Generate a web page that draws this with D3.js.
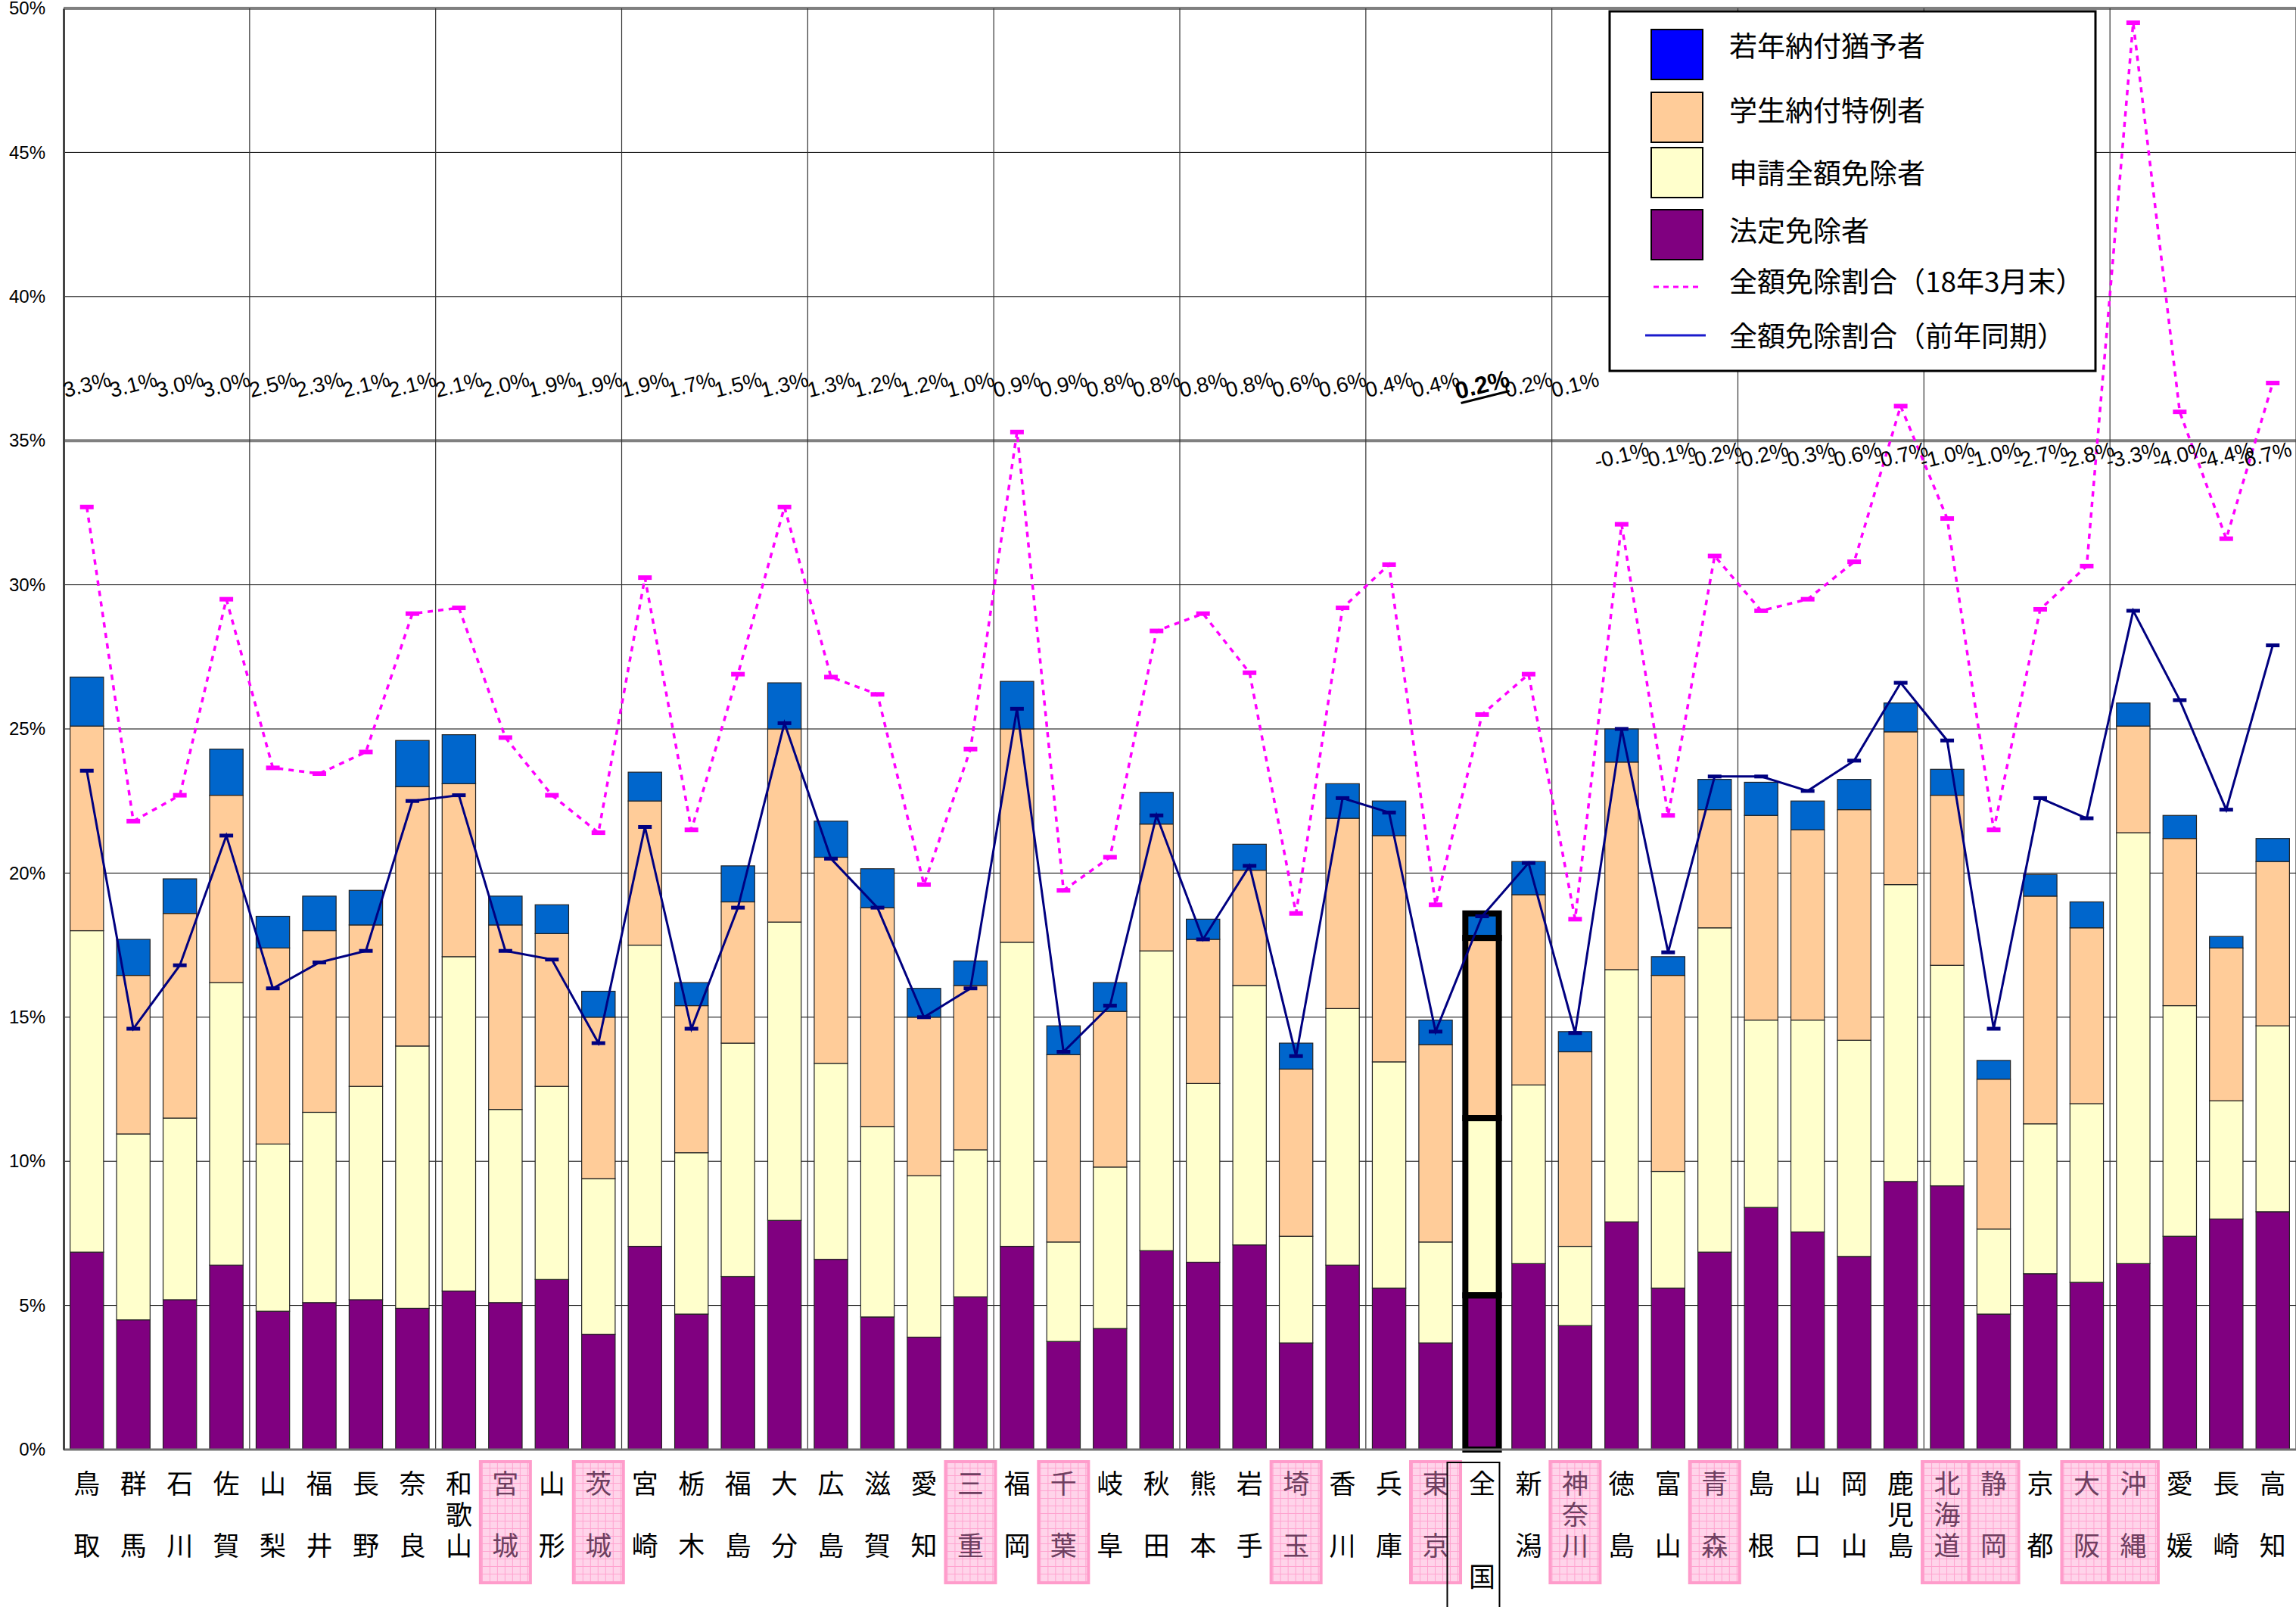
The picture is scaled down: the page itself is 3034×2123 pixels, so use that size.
<!DOCTYPE html>
<html lang="ja">
<head>
<meta charset="UTF-8"/>
<title>全額免除割合</title>
<script src="https://cdn.jsdelivr.net/npm/d3@7/dist/d3.min.js"></script>
<style>
body { margin: 0; background: #fff; }
svg { display: block; }
.yaxis text { font: 24px "Liberation Sans", Arial, sans-serif; fill: #000; }
.cat text { font: 35px "Noto Sans CJK JP", sans-serif; }
.diff text { font: 28px "Liberation Sans", Arial, sans-serif; fill: #000; }
.legend text { font: 37px "Noto Sans CJK JP", sans-serif; fill: #000; }
</style>
</head>
<body>
<svg id="chart"></svg>
<script>
var width = 3034, height = 2123;

// prefectures in the order of the source chart (sorted by change)
var categories = ["鳥取","群馬","石川","佐賀","山梨","福井","長野","奈良","和歌山","宮城",
  "山形","茨城","宮崎","栃木","福島","大分","広島","滋賀","愛知","三重",
  "福岡","千葉","岐阜","秋田","熊本","岩手","埼玉","香川","兵庫","東京",
  "全国","新潟","神奈川","徳島","富山","青森","島根","山口","岡山","鹿児島",
  "北海道","静岡","京都","大阪","沖縄","愛媛","長崎","高知"];

// 法定免除者 (%)
var houtei = [6.85,4.5,5.2,6.4,4.8,5.1,5.2,4.9,5.5,5.1,
  5.9,4.0,7.05,4.7,6.0,7.95,6.6,4.6,3.9,5.3,
  7.05,3.75,4.2,6.9,6.5,7.1,3.7,6.4,5.6,3.7,
  5.35,6.45,4.3,7.9,5.6,6.85,8.4,7.55,6.7,9.3,
  9.15,4.7,6.1,5.8,6.45,7.4,8.0,8.25];
// 申請全額免除者 (%)
var shinsei = [11.15,6.45,6.3,9.8,5.8,6.6,7.4,9.1,11.6,6.7,
  6.7,5.4,10.45,5.6,8.1,10.35,6.8,6.6,5.6,5.1,
  10.55,3.45,5.6,10.4,6.2,9.0,3.7,8.9,7.85,3.5,
  6.15,6.2,2.75,8.75,4.05,11.25,6.5,7.35,7.5,10.3,
  7.65,2.95,5.2,6.2,14.95,8.0,4.1,6.45];
// 学生納付特例者 (%)
var gakusei = [7.1,5.5,7.1,6.5,6.8,6.3,5.6,9.0,6.0,6.4,
  5.3,5.6,5.0,5.1,4.9,6.7,7.15,7.6,5.5,5.7,
  7.4,6.5,5.4,4.4,5.0,4.0,5.8,6.6,7.85,6.85,
  6.25,6.6,6.75,7.2,6.8,4.1,7.1,6.6,8.0,5.3,
  5.9,5.2,7.9,6.1,3.7,5.8,5.3,5.7];
// 若年納付猶予者 (%)
var jakunen = [1.7,1.25,1.2,1.6,1.1,1.2,1.2,1.6,1.7,1.0,
  1.0,0.9,1.0,0.8,1.25,1.6,1.25,1.35,1.0,0.85,
  1.65,1.0,1.0,1.1,0.7,0.9,0.9,1.2,1.2,0.85,
  0.85,1.15,0.7,1.15,0.65,1.05,1.15,1.0,1.05,1.0,
  0.9,0.65,0.75,0.9,0.8,0.8,0.4,0.8];
// 全額免除割合(18年3月末)
var rateNow = [32.7,21.8,22.7,29.5,23.65,23.45,24.2,29.0,29.2,24.7,
  22.7,21.4,30.25,21.5,26.9,32.7,26.8,26.2,19.6,24.3,
  35.3,19.4,20.55,28.4,29.0,26.95,18.6,29.2,30.7,18.9,
  25.5,26.9,18.4,32.1,22.0,31.0,29.1,29.5,30.8,36.2,
  32.3,21.5,29.15,30.65,49.5,36.0,31.6,37.0];
// 全額免除割合(前年同期)
var ratePrev = [23.55,14.6,16.8,21.3,16.0,16.9,17.3,22.5,22.7,17.3,
  17.0,14.1,21.6,14.6,18.8,25.2,20.5,18.8,15.0,16.0,
  25.7,13.8,15.4,22.0,17.7,20.25,13.65,22.6,22.1,14.5,
  18.5,20.35,14.45,25.0,17.25,23.35,23.35,22.85,23.9,26.6,
  24.6,14.6,22.6,21.9,29.1,26.0,22.2,27.9];
// 前年同期との差
var diffLabels = ["3.3%","3.1%","3.0%","3.0%","2.5%","2.3%","2.1%","2.1%","2.1%","2.0%",
  "1.9%","1.9%","1.9%","1.7%","1.5%","1.3%","1.3%","1.2%","1.2%","1.0%",
  "0.9%","0.9%","0.8%","0.8%","0.8%","0.8%","0.6%","0.6%","0.4%","0.4%",
  "0.2%","0.2%","0.1%","-0.1%","-0.1%","-0.2%","-0.2%","-0.3%","-0.6%","-0.7%",
  "-1.0%","-1.0%","-2.7%","-2.8%","-3.3%","-4.0%","-4.4%","-6.7%"];
var highlighted = ["宮城","茨城","三重","千葉","埼玉","東京","神奈川","青森","北海道","静岡","大阪","沖縄"];
var yTicks = [0,5,10,15,20,25,30,35,40,45,50];
var seriesNames = ["若年納付猶予者","学生納付特例者","申請全額免除者","法定免除者",
  "全額免除割合（18年3月末）","全額免除割合（前年同期）"];

var svg = d3.select("#chart").attr("width", width).attr("height", height);

var defs = svg.append("defs");
var pat = defs.append("pattern").attr("id", "pinkgrid")
  .attr("width", 10).attr("height", 10).attr("patternUnits", "userSpaceOnUse");
pat.append("rect").attr("width", 10).attr("height", 10).attr("fill", "#FFD4EA");
pat.append("path").attr("d", "M9.5 0V10M0 9.5H10").attr("stroke", "#FFA3CF").attr("stroke-width", 1);

var x = d3.scaleBand().domain(categories).range([84, width])
  .paddingInner(0.28).paddingOuter(0.14);
var y = d3.scaleLinear().domain([0, 50]).range([1915, 11]);
var bw = x.bandwidth();
var cx = function(c) { return x(c) + bw / 2; };

// ---- grid ----
var grid = svg.append("g");
grid.selectAll("line.h").data(yTicks.filter(function(d) { return d > 0; }))
  .enter().append("line")
  .attr("x1", 84).attr("x2", width)
  .attr("y1", function(d) { return y(d); }).attr("y2", function(d) { return y(d); })
  .attr("stroke", function(d) { return (d == 35 || d == 50) ? "#808080" : "#000"; })
  .attr("stroke-width", function(d) { return (d == 35 || d == 50) ? 4 : 1; });
var step = x.step();
grid.selectAll("line.v").data(d3.range(4, categories.length + 1, 4))
  .enter().append("line")
  .attr("x1", function(k) { return 84 + k * step; })
  .attr("x2", function(k) { return 84 + k * step; })
  .attr("y1", y(50)).attr("y2", y(0))
  .attr("stroke", "#333").attr("stroke-width", 1.2);

// ---- stacked bars ----
var keys = ["houtei", "shinsei", "gakusei", "jakunen"];
var colors = {houtei: "#800080", shinsei: "#FFFFCC", gakusei: "#FFCC99", jakunen: "#0066CC"};
var rows = categories.map(function(c, i) {
  return {name: c, houtei: houtei[i], shinsei: shinsei[i], gakusei: gakusei[i], jakunen: jakunen[i]};
});
var stacked = d3.stack().keys(keys)(rows);

svg.append("g").selectAll("g").data(stacked).enter().append("g")
  .attr("fill", function(s) { return colors[s.key]; })
  .selectAll("rect").data(function(s) { return s; }).enter().append("rect")
  .attr("x", function(d) { return x(d.data.name); })
  .attr("width", bw)
  .attr("y", function(d) { return y(d[1]); })
  .attr("height", function(d) { return y(d[0]) - y(d[1]); })
  .attr("stroke", "#222").attr("stroke-width", 1.2);

// 全国: thick outline around each segment
svg.append("g").selectAll("rect")
  .data(stacked.map(function(s) { return s.find(function(d) { return d.data.name == "全国"; }); }))
  .enter().append("rect")
  .attr("x", x("全国")).attr("width", bw)
  .attr("y", function(d) { return y(d[1]); })
  .attr("height", function(d) { return y(d[0]) - y(d[1]); })
  .attr("fill", "none").attr("stroke", "#000").attr("stroke-width", 8);

// baseline and y axis
svg.append("line").attr("x1", 84).attr("x2", width).attr("y1", y(0)).attr("y2", y(0))
  .attr("stroke", "#707070").attr("stroke-width", 3);
var yAxis = svg.append("g").attr("class", "yaxis").attr("transform", "translate(84,0)")
  .call(d3.axisLeft(y).tickValues(yTicks).tickFormat(function(d) { return d + "%"; })
    .tickSize(0).tickPadding(24));
yAxis.select(".domain").attr("stroke", "#444").attr("stroke-width", 3);

// ---- lines ----
var lineGen = d3.line()
  .x(function(d, i) { return cx(categories[i]); })
  .y(function(d) { return y(d); });

svg.append("path").datum(ratePrev).attr("d", lineGen)
  .attr("fill", "none").attr("stroke", "#000080").attr("stroke-width", 3);
svg.append("g").selectAll("rect").data(ratePrev).enter().append("rect")
  .attr("x", function(d, i) { return cx(categories[i]) - 9; })
  .attr("y", function(d) { return y(d) - 2.5; })
  .attr("width", 18).attr("height", 5).attr("fill", "#000080");

svg.append("path").datum(rateNow).attr("d", lineGen)
  .attr("fill", "none").attr("stroke", "#FF00FF").attr("stroke-width", 3.5)
  .attr("stroke-dasharray", "7,7");
svg.append("g").selectAll("rect").data(rateNow).enter().append("rect")
  .attr("x", function(d, i) { return cx(categories[i]) - 9; })
  .attr("y", function(d) { return y(d) - 3; })
  .attr("width", 18).attr("height", 6).attr("fill", "#FF00FF");

// ---- change labels ----
var diff = svg.append("g").attr("class", "diff").selectAll("g").data(diffLabels).enter().append("g")
  .attr("transform", function(d, i) {
    var v = parseFloat(d);
    var px = Math.min(cx(categories[i]), width - 42);
    return "translate(" + px + "," + y(v >= 0 ? 36.95 : 34.5) + ") rotate(-14)";
  });
diff.append("text")
  .attr("text-anchor", "middle").attr("dy", "0.35em")
  .style("font-size", function(d, i) { return categories[i] == "全国" ? "32px" : null; })
  .style("font-weight", function(d, i) { return categories[i] == "全国" ? "bold" : null; })
  .text(function(d) { return d; });
diff.filter(function(d, i) { return categories[i] == "全国"; })
  .append("line").attr("x1", -33).attr("x2", 33).attr("y1", 17).attr("y2", 17)
  .attr("stroke", "#000").attr("stroke-width", 3);

// ---- category labels ----
var cat = svg.append("g").attr("class", "cat").selectAll("g").data(categories).enter().append("g")
  .attr("transform", function(c) { return "translate(" + cx(c) + ",0)"; });
cat.filter(function(c) { return highlighted.indexOf(c) >= 0; })
  .append("rect").attr("x", -33).attr("width", 66).attr("y", 1931).attr("height", 160)
  .attr("fill", "url(#pinkgrid)").attr("stroke", "#FF9CCB").attr("stroke-width", 4);
cat.filter(function(c) { return c == "全国"; })
  .append("path").attr("d", "M-46,2123V1932H23V2123")
  .attr("fill", "none").attr("stroke", "#000").attr("stroke-width", 2);
cat.append("text").attr("text-anchor", "middle")
  .attr("fill", function(c) { return highlighted.indexOf(c) >= 0 ? "#6E3F60" : "#000"; })
  .selectAll("tspan")
  .data(function(c) {
    if (c == "全国") return ["全", "", "", "国"];
    if (c.length == 2) return [c[0], "", c[1]];
    return c.split("");
  })
  .enter().append("tspan")
  .attr("x", 0)
  .attr("y", function(ch, j) { return 1973 + j * 41; })
  .text(function(ch) { return ch; });

// ---- legend ----
var legend = svg.append("g").attr("class", "legend");
legend.append("rect").attr("x", 2127).attr("y", 15).attr("width", 642).attr("height", 475)
  .attr("fill", "#fff").attr("stroke", "#000").attr("stroke-width", 3);
var swatchY = [72, 155, 228, 310];
var textY = [62, 147, 230, 306, 373, 445];
var swatchColors = ["#0000FF", colors.gakusei, colors.shinsei, colors.houtei];
legend.selectAll("rect.sw").data(swatchColors).enter().append("rect")
  .attr("x", 2182).attr("width", 68)
  .attr("y", function(d, i) { return swatchY[i] - 33; }).attr("height", 66)
  .attr("fill", function(d) { return d; }).attr("stroke", "#000").attr("stroke-width", 2);
legend.append("line").attr("x1", 2185).attr("x2", 2250).attr("y1", 379).attr("y2", 379)
  .attr("stroke", "#FF00FF").attr("stroke-width", 3).attr("stroke-dasharray", "7,6");
legend.append("line").attr("x1", 2174).attr("x2", 2254).attr("y1", 443).attr("y2", 443)
  .attr("stroke", "#1a1acc").attr("stroke-width", 3);
legend.selectAll("text").data(seriesNames).enter().append("text")
  .attr("x", 2285).attr("y", function(d, i) { return textY[i]; })
  .attr("dy", "0.35em")
  .text(function(d) { return d; });
</script>
</body>
</html>
